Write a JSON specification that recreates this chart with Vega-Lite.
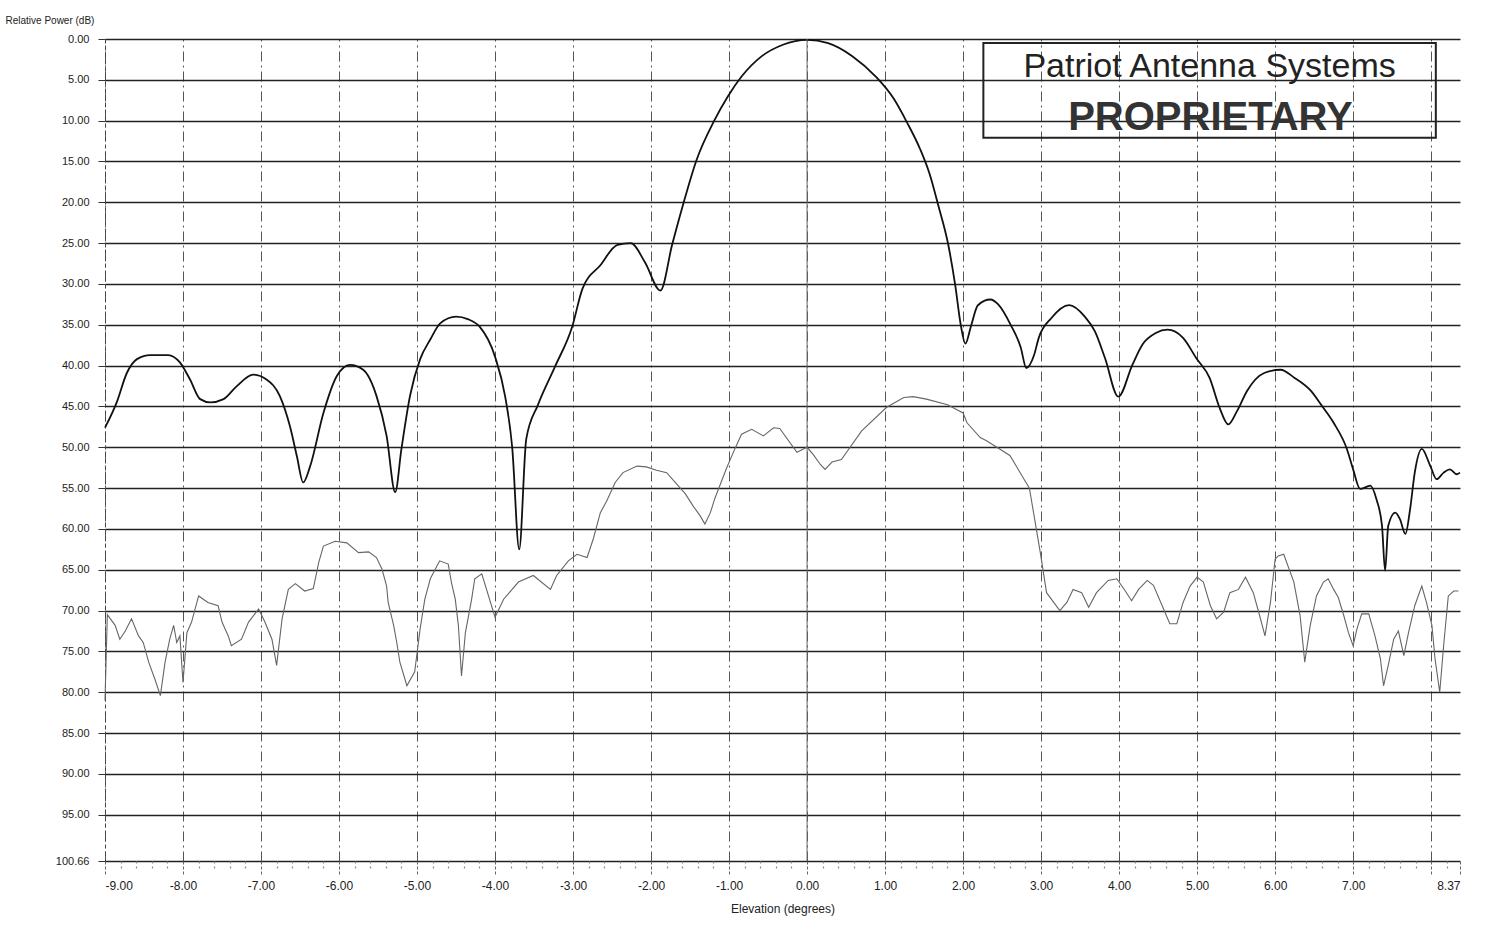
{
  "$schema": "https://vega.github.io/schema/vega-lite/v6.json",
  "width": 1355,
  "height": 822,
  "autosize": {"type": "none"},
  "padding": {"left": 105, "top": 39, "right": 50, "bottom": 78},
  "background": "white",
  "config": {"view": {"stroke": null}, "font": "Liberation Sans"},
  "resolve": {"axis": {"x": "independent"}},
  "datasets": {
    "main": [
      {"x": -9.0, "y": 47.6}, {"x": -8.85, "y": 44.5}, {"x": -8.72, "y": 40.9}, {"x": -8.59, "y": 39.2},
      {"x": -8.42, "y": 38.7}, {"x": -8.19, "y": 38.7}, {"x": -8.04, "y": 39.6}, {"x": -7.91, "y": 41.7},
      {"x": -7.78, "y": 44.1}, {"x": -7.65, "y": 44.5}, {"x": -7.48, "y": 44.1}, {"x": -7.31, "y": 42.5},
      {"x": -7.10, "y": 41.1}, {"x": -6.93, "y": 41.7}, {"x": -6.76, "y": 43.7}, {"x": -6.63, "y": 47.4},
      {"x": -6.54, "y": 51.1}, {"x": -6.46, "y": 54.3}, {"x": -6.37, "y": 52.3}, {"x": -6.20, "y": 45.8},
      {"x": -6.03, "y": 41.3}, {"x": -5.86, "y": 39.9}, {"x": -5.69, "y": 40.5}, {"x": -5.52, "y": 43.7},
      {"x": -5.39, "y": 48.6}, {"x": -5.28, "y": 55.5}, {"x": -5.20, "y": 50.2}, {"x": -5.09, "y": 43.7},
      {"x": -4.96, "y": 39.2}, {"x": -4.83, "y": 36.8}, {"x": -4.70, "y": 34.8}, {"x": -4.50, "y": 34.0},
      {"x": -4.35, "y": 34.3}, {"x": -4.20, "y": 35.2}, {"x": -4.00, "y": 38.9}, {"x": -3.87, "y": 43.8},
      {"x": -3.78, "y": 50.0}, {"x": -3.69, "y": 62.5}, {"x": -3.60, "y": 49.0}, {"x": -3.45, "y": 44.8},
      {"x": -3.23, "y": 40.1}, {"x": -3.01, "y": 35.2}, {"x": -2.88, "y": 30.6}, {"x": -2.65, "y": 27.7},
      {"x": -2.43, "y": 25.2}, {"x": -2.26, "y": 25.0}, {"x": -2.08, "y": 27.3}, {"x": -1.88, "y": 30.8},
      {"x": -1.73, "y": 25.2}, {"x": -1.59, "y": 20.3}, {"x": -1.42, "y": 14.9}, {"x": -1.19, "y": 10.0},
      {"x": -1.02, "y": 7.1}, {"x": -0.84, "y": 4.6}, {"x": -0.58, "y": 2.1}, {"x": -0.31, "y": 0.7},
      {"x": 0.0, "y": 0.1}, {"x": 0.27, "y": 0.5}, {"x": 0.58, "y": 2.1}, {"x": 0.88, "y": 4.6},
      {"x": 1.11, "y": 7.3}, {"x": 1.28, "y": 10.2}, {"x": 1.45, "y": 13.5}, {"x": 1.57, "y": 16.5},
      {"x": 1.68, "y": 20.3}, {"x": 1.81, "y": 25.2}, {"x": 1.90, "y": 30.2}, {"x": 1.97, "y": 35.0},
      {"x": 2.03, "y": 37.3},
      {"x": 2.10, "y": 35.2}, {"x": 2.19, "y": 32.6}, {"x": 2.35, "y": 31.9}, {"x": 2.45, "y": 32.5},
      {"x": 2.61, "y": 35.0}, {"x": 2.74, "y": 37.8}, {"x": 2.81, "y": 40.3}, {"x": 2.91, "y": 38.7},
      {"x": 2.97, "y": 36.6}, {"x": 3.13, "y": 34.2}, {"x": 3.36, "y": 32.6}, {"x": 3.56, "y": 34.0},
      {"x": 3.69, "y": 35.8}, {"x": 3.82, "y": 39.1}, {"x": 3.99, "y": 43.8}, {"x": 4.17, "y": 39.9},
      {"x": 4.30, "y": 37.4}, {"x": 4.47, "y": 36.0}, {"x": 4.62, "y": 35.6}, {"x": 4.82, "y": 36.6},
      {"x": 4.99, "y": 39.1}, {"x": 5.16, "y": 41.5}, {"x": 5.29, "y": 45.2}, {"x": 5.40, "y": 47.2},
      {"x": 5.51, "y": 45.6}, {"x": 5.64, "y": 43.1}, {"x": 5.86, "y": 40.9}, {"x": 6.07, "y": 40.5},
      {"x": 6.25, "y": 41.5}, {"x": 6.46, "y": 43.1}, {"x": 6.59, "y": 44.8}, {"x": 6.75, "y": 47.0},
      {"x": 6.92, "y": 50.2}, {"x": 7.00, "y": 52.7}, {"x": 7.09, "y": 55.1}, {"x": 7.22, "y": 54.7},
      {"x": 7.30, "y": 56.4}, {"x": 7.37, "y": 59.6}, {"x": 7.41, "y": 65.1}, {"x": 7.45, "y": 59.6},
      {"x": 7.54, "y": 58.0}, {"x": 7.60, "y": 58.8}, {"x": 7.67, "y": 60.6}, {"x": 7.73, "y": 57.6},
      {"x": 7.79, "y": 53.1}, {"x": 7.88, "y": 50.2}, {"x": 7.99, "y": 52.3}, {"x": 8.07, "y": 53.9},
      {"x": 8.16, "y": 53.1}, {"x": 8.24, "y": 52.7}, {"x": 8.33, "y": 53.3}, {"x": 8.37, "y": 53.1}
    ],
    "noise": [
      {"x": -9.0, "y": 81.0}, {"x": -8.97, "y": 70.5}, {"x": -8.87, "y": 71.8}, {"x": -8.81, "y": 73.5},
      {"x": -8.74, "y": 72.5}, {"x": -8.66, "y": 71.0}, {"x": -8.57, "y": 73.1}, {"x": -8.51, "y": 73.9},
      {"x": -8.44, "y": 76.3}, {"x": -8.36, "y": 78.4}, {"x": -8.29, "y": 80.4}, {"x": -8.23, "y": 76.3},
      {"x": -8.17, "y": 73.5}, {"x": -8.12, "y": 71.8}, {"x": -8.08, "y": 73.9}, {"x": -8.04, "y": 73.1},
      {"x": -8.00, "y": 78.8}, {"x": -7.95, "y": 72.7}, {"x": -7.89, "y": 71.4}, {"x": -7.80, "y": 68.2},
      {"x": -7.68, "y": 69.0}, {"x": -7.55, "y": 69.4}, {"x": -7.50, "y": 71.4}, {"x": -7.42, "y": 73.1},
      {"x": -7.38, "y": 74.3}, {"x": -7.25, "y": 73.5}, {"x": -7.16, "y": 71.4}, {"x": -7.03, "y": 69.8},
      {"x": -6.95, "y": 71.4}, {"x": -6.86, "y": 73.5}, {"x": -6.80, "y": 76.7}, {"x": -6.73, "y": 71.0},
      {"x": -6.65, "y": 67.4}, {"x": -6.56, "y": 66.7}, {"x": -6.44, "y": 67.6}, {"x": -6.33, "y": 67.3},
      {"x": -6.26, "y": 64.1}, {"x": -6.20, "y": 62.1}, {"x": -6.05, "y": 61.5}, {"x": -5.90, "y": 61.7},
      {"x": -5.75, "y": 62.9}, {"x": -5.62, "y": 62.8}, {"x": -5.52, "y": 63.5}, {"x": -5.45, "y": 64.9},
      {"x": -5.39, "y": 67.0}, {"x": -5.37, "y": 69.0}, {"x": -5.30, "y": 71.8}, {"x": -5.26, "y": 73.9},
      {"x": -5.22, "y": 76.3}, {"x": -5.13, "y": 79.2}, {"x": -5.03, "y": 77.5}, {"x": -4.96, "y": 72.2},
      {"x": -4.90, "y": 68.6}, {"x": -4.83, "y": 66.1}, {"x": -4.71, "y": 63.9}, {"x": -4.60, "y": 64.3},
      {"x": -4.56, "y": 66.5}, {"x": -4.51, "y": 68.6}, {"x": -4.47, "y": 71.8}, {"x": -4.43, "y": 78.0},
      {"x": -4.38, "y": 72.7}, {"x": -4.30, "y": 68.6}, {"x": -4.26, "y": 66.1}, {"x": -4.17, "y": 65.5},
      {"x": -4.00, "y": 70.8}, {"x": -3.89, "y": 68.6}, {"x": -3.70, "y": 66.5}, {"x": -3.51, "y": 65.7},
      {"x": -3.29, "y": 67.4}, {"x": -3.21, "y": 65.7}, {"x": -3.06, "y": 63.9}, {"x": -2.95, "y": 63.1},
      {"x": -2.82, "y": 63.5}, {"x": -2.74, "y": 61.2}, {"x": -2.65, "y": 58.0}, {"x": -2.57, "y": 56.6},
      {"x": -2.46, "y": 54.3}, {"x": -2.36, "y": 53.1}, {"x": -2.18, "y": 52.3}, {"x": -2.06, "y": 52.4},
      {"x": -1.93, "y": 52.8}, {"x": -1.80, "y": 53.1}, {"x": -1.69, "y": 54.3}, {"x": -1.56, "y": 55.7},
      {"x": -1.46, "y": 57.2}, {"x": -1.37, "y": 58.4}, {"x": -1.31, "y": 59.4}, {"x": -1.24, "y": 58.0},
      {"x": -1.18, "y": 56.2}, {"x": -1.03, "y": 52.5}, {"x": -0.94, "y": 50.5}, {"x": -0.84, "y": 48.4},
      {"x": -0.71, "y": 47.8}, {"x": -0.56, "y": 48.6}, {"x": -0.43, "y": 47.6}, {"x": -0.35, "y": 47.7},
      {"x": -0.13, "y": 50.6}, {"x": 0.0, "y": 50.0}, {"x": 0.08, "y": 50.9}, {"x": 0.17, "y": 52.1},
      {"x": 0.23, "y": 52.7}, {"x": 0.32, "y": 51.8}, {"x": 0.44, "y": 51.5}, {"x": 0.70, "y": 48.0},
      {"x": 1.02, "y": 45.1}, {"x": 1.24, "y": 43.9}, {"x": 1.36, "y": 43.8}, {"x": 1.53, "y": 44.1},
      {"x": 1.80, "y": 44.8}, {"x": 2.00, "y": 45.8}, {"x": 2.05, "y": 47.0}, {"x": 2.22, "y": 48.8},
      {"x": 2.30, "y": 49.2}, {"x": 2.60, "y": 51.0}, {"x": 2.85, "y": 55.0}, {"x": 2.99, "y": 62.9},
      {"x": 3.07, "y": 67.8}, {"x": 3.24, "y": 70.0}, {"x": 3.33, "y": 69.0}, {"x": 3.41, "y": 67.4},
      {"x": 3.52, "y": 67.8}, {"x": 3.61, "y": 69.6}, {"x": 3.71, "y": 67.8}, {"x": 3.86, "y": 66.3},
      {"x": 3.97, "y": 66.1}, {"x": 4.08, "y": 67.6}, {"x": 4.16, "y": 68.8}, {"x": 4.25, "y": 67.4},
      {"x": 4.36, "y": 66.3}, {"x": 4.44, "y": 66.9}, {"x": 4.57, "y": 69.8}, {"x": 4.65, "y": 71.6},
      {"x": 4.74, "y": 71.6}, {"x": 4.82, "y": 69.0}, {"x": 4.91, "y": 67.0}, {"x": 5.00, "y": 65.9},
      {"x": 5.08, "y": 66.5}, {"x": 5.17, "y": 69.4}, {"x": 5.25, "y": 71.0}, {"x": 5.34, "y": 70.2},
      {"x": 5.42, "y": 67.8}, {"x": 5.53, "y": 67.4}, {"x": 5.62, "y": 65.9}, {"x": 5.72, "y": 67.8},
      {"x": 5.79, "y": 70.2}, {"x": 5.87, "y": 73.1}, {"x": 5.94, "y": 69.0}, {"x": 6.00, "y": 63.7},
      {"x": 6.04, "y": 63.3}, {"x": 6.11, "y": 63.1}, {"x": 6.24, "y": 66.5}, {"x": 6.32, "y": 70.6},
      {"x": 6.38, "y": 76.3}, {"x": 6.45, "y": 71.8}, {"x": 6.53, "y": 68.2}, {"x": 6.62, "y": 66.5},
      {"x": 6.68, "y": 66.1}, {"x": 6.75, "y": 67.4}, {"x": 6.81, "y": 68.4}, {"x": 6.88, "y": 70.6},
      {"x": 6.94, "y": 72.7}, {"x": 7.00, "y": 74.3}, {"x": 7.05, "y": 72.2}, {"x": 7.11, "y": 70.4},
      {"x": 7.20, "y": 70.4}, {"x": 7.28, "y": 73.1}, {"x": 7.35, "y": 75.9}, {"x": 7.39, "y": 79.2},
      {"x": 7.45, "y": 76.7}, {"x": 7.52, "y": 73.5}, {"x": 7.58, "y": 72.5}, {"x": 7.65, "y": 75.5},
      {"x": 7.71, "y": 72.7}, {"x": 7.79, "y": 69.4}, {"x": 7.88, "y": 67.0}, {"x": 7.94, "y": 69.0},
      {"x": 8.01, "y": 71.8}, {"x": 8.05, "y": 75.9}, {"x": 8.11, "y": 80.0}, {"x": 8.16, "y": 74.3},
      {"x": 8.22, "y": 68.2}, {"x": 8.29, "y": 67.6}, {"x": 8.35, "y": 67.6}
    ],
    "box": [{"x": 2.26, "x2": 8.06, "y": 0.5, "y2": 12.1}],
    "line1": [{"x": 5.16, "y": 4.6, "text": "Patriot Antenna Systems"}],
    "line2": [{"x": 5.17, "y": 11.2, "text": "PROPRIETARY"}]
  },
  "layer": [
    {
      "data": {"name": "main"},
      "mark": {"type": "line", "color": "#111", "strokeWidth": 1.8, "interpolate": "monotone"},
      "encoding": {
        "x": {
          "field": "x", "type": "quantitative", "title": "Elevation (degrees)",
          "scale": {"domain": [-9, 8.37], "nice": false, "zero": false},
          "axis": {
            "values": [-9, -8, -7, -6, -5, -4, -3, -2, -1, 0, 1, 2, 3, 4, 5, 6, 7, 8, 8.37],
            "labelExpr": "datum.value == 8 ? '' : replace(format(datum.value, '.2f'), '\u2212', '-')",
            "grid": true, "gridColor": "#555", "gridWidth": 1, "gridDash": [10, 4, 2, 4],
            "gridOpacity": {"condition": {"test": "datum.value > 8.3", "value": 0}, "value": 1},
            "tickSize": 14, "tickColor": "#666", "tickDash": [3, 2],
            "domain": false,
            "labelFont": "Liberation Sans", "labelFontSize": 12, "labelColor": "#222", "labelPadding": 5,
            "titleFont": "Liberation Sans", "titleFontSize": 12,
            "titleFontWeight": "normal", "titleColor": "#222", "titlePadding": 12
          }
        },
        "y": {
          "field": "y", "type": "quantitative", "title": "Relative Power (dB)",
          "scale": {"domain": [0, 100.66], "reverse": true, "nice": false, "zero": false},
          "axis": {
            "values": [0, 5, 10, 15, 20, 25, 30, 35, 40, 45, 50, 55, 60, 65, 70, 75, 80, 85, 90, 95, 100.66],
            "format": ".2f",
            "grid": true, "gridColor": "#222", "gridWidth": 1.6,
            "tickSize": 7, "tickColor": "#333",
            "domain": true, "domainColor": "#444", "domainDash": [4, 3],
            "labelFont": "Liberation Sans", "labelFontSize": 11, "labelColor": "#222", "labelPadding": 9,
            "titleFont": "Liberation Sans", "titleFontSize": 10,
            "titleFontWeight": "normal", "titleColor": "#222", "titleAngle": 0, "titleAlign": "left",
            "titleBaseline": "middle", "titleX": -100, "titleY": -19
          }
        }
      }
    },
    {
      "data": {"name": "noise"},
      "mark": {"type": "line", "color": "#666", "strokeWidth": 1.1},
      "encoding": {
        "x": {
          "field": "x", "type": "quantitative", "title": null,
          "axis": {
            "orient": "bottom",
            "values": [-8.8, -8.6, -8.4, -8.2, -7.8, -7.6, -7.4, -7.2, -6.8, -6.6, -6.4, -6.2, -5.8, -5.6, -5.4, -5.2, -4.8, -4.6, -4.4, -4.2, -3.8, -3.6, -3.4, -3.2, -2.8, -2.6, -2.4, -2.2, -1.8, -1.6, -1.4, -1.2, -0.8, -0.6, -0.4, -0.2, 0.2, 0.4, 0.6, 0.8, 1.2, 1.4, 1.6, 1.8, 2.2, 2.4, 2.6, 2.8, 3.2, 3.4, 3.6, 3.8, 4.2, 4.4, 4.6, 4.8, 5.2, 5.4, 5.6, 5.8, 6.2, 6.4, 6.6, 6.8, 7.2, 7.4, 7.6, 7.8, 8.2],
            "labels": false, "grid": false, "domain": false,
            "ticks": true, "tickSize": 8, "tickColor": "#888", "tickWidth": 1.2, "tickDash": [2, 3], "tickOffset": 0
          }
        },
        "y": {"field": "y", "type": "quantitative", "title": "Relative Power (dB)"}
      }
    },
    {
      "data": {"name": "box"},
      "mark": {"type": "rule", "color": "#666", "strokeWidth": 1},
      "encoding": {
        "x": {"datum": 0, "type": "quantitative", "axis": null}
      }
    },
    {
      "data": {"name": "box"},
      "mark": {"type": "rect", "fill": null, "fillOpacity": 0, "stroke": "#222", "strokeWidth": 2},
      "encoding": {
        "x": {"field": "x", "type": "quantitative", "axis": null},
        "x2": {"field": "x2"},
        "y": {"field": "y", "type": "quantitative", "title": "Relative Power (dB)"},
        "y2": {"field": "y2"}
      }
    },
    {
      "data": {"name": "line1"},
      "mark": {"type": "text", "font": "Liberation Sans", "fontSize": 34, "color": "#222", "align": "center", "baseline": "alphabetic"},
      "encoding": {
        "x": {"field": "x", "type": "quantitative", "axis": null},
        "y": {"field": "y", "type": "quantitative", "title": "Relative Power (dB)"},
        "text": {"field": "text"}
      }
    },
    {
      "data": {"name": "line2"},
      "mark": {"type": "text", "font": "Liberation Sans", "fontSize": 40, "fontWeight": "bold", "color": "#333", "align": "center", "baseline": "alphabetic"},
      "encoding": {
        "x": {"field": "x", "type": "quantitative", "axis": null},
        "y": {"field": "y", "type": "quantitative", "title": "Relative Power (dB)"},
        "text": {"field": "text"}
      }
    }
  ]
}
